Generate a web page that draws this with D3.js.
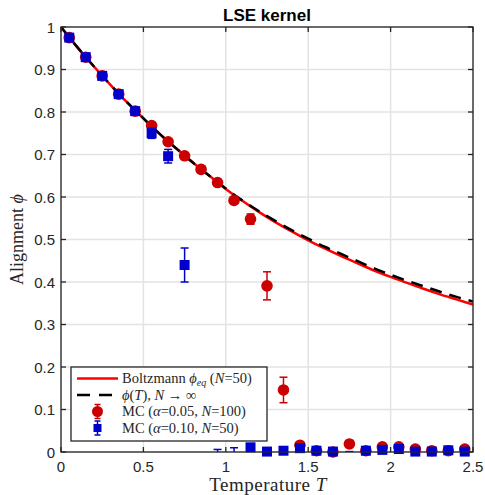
<!DOCTYPE html>
<html>
<head>
<meta charset="utf-8">
<script src="https://cdn.jsdelivr.net/npm/d3@7"></script>
<style>
  html, body { margin: 0; padding: 0; background: #fff; }
  svg { display: block; }
</style>
</head>
<body>
<svg id="chart" width="485" height="495"></svg>
<script>
/* LSE kernel — alignment vs temperature, theory curves + MC points */
(function () {
  'use strict';

  // --- data ---
  const curveT = [0, 0.1, 0.2, 0.3, 0.4, 0.5, 0.6, 0.7, 0.8, 0.9, 1.0, 1.1, 1.2, 1.3,
    1.4, 1.5, 1.6, 1.7, 1.8, 1.9, 2.0, 2.1, 2.2, 2.3, 2.4, 2.5];
  const phiInf = [1.0, 0.952, 0.907, 0.864, 0.823, 0.785, 0.748, 0.714, 0.681, 0.650,
    0.620, 0.592, 0.567, 0.544, 0.522, 0.502, 0.483, 0.466, 0.449, 0.432,
    0.417, 0.403, 0.390, 0.377, 0.365, 0.354];
  const phiEq = [1.0, 0.952, 0.907, 0.864, 0.823, 0.785, 0.748, 0.714, 0.681, 0.650,
    0.619, 0.591, 0.565, 0.541, 0.519, 0.498, 0.479, 0.461, 0.444, 0.427,
    0.412, 0.398, 0.384, 0.371, 0.359, 0.347];

  const mcT = [0.05, 0.15, 0.25, 0.35, 0.45, 0.55, 0.65, 0.75, 0.85, 0.95, 1.05, 1.15,
    1.25, 1.35, 1.45, 1.55, 1.65, 1.75, 1.85, 1.95, 2.05, 2.15, 2.25, 2.35, 2.45];
  const redPhi = [0.975, 0.929, 0.885, 0.842, 0.802, 0.768, 0.730, 0.697, 0.665, 0.634,
    0.592, 0.548, 0.391, 0.146, 0.016, 0.003, 0.0, 0.019, 0.003, 0.012, 0.012,
    0.007, 0.003, 0.003, 0.007];
  const redErr = [0.003, 0.003, 0.003, 0.003, 0.003, 0.004, 0.004, 0.004, 0.004, 0.005,
    0.006, 0.012, 0.033, 0.030, 0.004, 0.003, 0.003, 0.004, 0.003, 0.003, 0.003,
    0.003, 0.003, 0.003, 0.003];
  const bluePhi = [0.975, 0.929, 0.885, 0.842, 0.802, 0.750, 0.696, 0.440, -0.010, -0.004,
    -0.002, 0.011, 0.001, 0.003, 0.009, 0.003, 0.001, -0.004, 0.003, 0.005, 0.007,
    0.001, 0.001, 0.004, 0.001];
  const blueErr = [0.003, 0.003, 0.003, 0.003, 0.003, 0.012, 0.016, 0.040, 0.005, 0.010,
    0.012, 0.003, 0.002, 0.002, 0.003, 0.002, 0.002, 0.005, 0.002, 0.002, 0.003,
    0.002, 0.002, 0.002, 0.002];

  const xTicks = [0, 0.5, 1, 1.5, 2, 2.5];
  const xTickLabels = ['0', '0.5', '1', '1.5', '2', '2.5'];
  const yTicks = [0, 0.1, 0.2, 0.3, 0.4, 0.5, 0.6, 0.7, 0.8, 0.9, 1];
  const yTickLabels = ['0', '0.1', '0.2', '0.3', '0.4', '0.5', '0.6', '0.7', '0.8', '0.9', '1'];

  const RED_LINE = '#ff0000';
  const RED_MC = '#cc0000';
  const BLUE_MC = '#0000cc';
  const AXIS = '#262626';
  const SANS = '"Liberation Sans", Arial, Helvetica, sans-serif';
  const SERIF = '"Liberation Serif", "Times New Roman", serif';

  const box = { left: 61, right: 473, top: 27, bottom: 452 };
  const svg = d3.select('#chart');

  const x = d3.scaleLinear().domain([0, 2.5]).range([box.left, box.right]);
  const y = d3.scaleLinear().domain([0, 1]).range([box.bottom, box.top]);

  svg.append('defs').append('clipPath').attr('id', 'plotClip')
    .append('rect')
    .attr('x', box.left).attr('y', box.top)
    .attr('width', box.right - box.left).attr('height', box.bottom - box.top);

  // grid
  const grid = svg.append('g');
  xTicks.forEach((v) => {
    grid.append('line').attr('x1', x(v)).attr('x2', x(v)).attr('y1', box.top).attr('y2', box.bottom)
      .attr('stroke', '#e3e3e3').attr('stroke-width', 1.5);
  });
  yTicks.forEach((v) => {
    grid.append('line').attr('x1', box.left).attr('x2', box.right).attr('y1', y(v)).attr('y2', y(v))
      .attr('stroke', '#e3e3e3').attr('stroke-width', 1.5);
  });

  // theory curves
  const curveG = svg.append('g').attr('clip-path', 'url(#plotClip)');
  const line = (vals) => d3.line()
    .x((_, i) => x(curveT[i])).y((d) => y(d))
    .curve(d3.curveMonotoneX)(vals);
  curveG.append('path').attr('d', line(phiEq))
    .attr('fill', 'none').attr('stroke', RED_LINE).attr('stroke-width', 2.5);
  curveG.append('path').attr('d', line(phiInf))
    .attr('fill', 'none').attr('stroke', '#000').attr('stroke-width', 2.5)
    .attr('stroke-dasharray', '12 8');

  // error bars (clipped to axes) + markers (hidden if centre outside)
  function drawSeries(vals, errs, color, shape) {
    const eg = svg.append('g').attr('clip-path', 'url(#plotClip)');
    const mg = svg.append('g');
    vals.forEach((v, i) => {
      const cx = x(mcT[i]);
      const lo = y(v - errs[i]), hi = y(v + errs[i]);
      eg.append('line').attr('x1', cx).attr('x2', cx).attr('y1', lo).attr('y2', hi)
        .attr('stroke', color).attr('stroke-width', 1.5);
      [lo, hi].forEach((yy) => {
        eg.append('line').attr('x1', cx - 4).attr('x2', cx + 4).attr('y1', yy).attr('y2', yy)
          .attr('stroke', color).attr('stroke-width', 1.5);
      });
      if (v < 0) return;
      if (shape === 'circle') {
        mg.append('circle').attr('cx', cx).attr('cy', y(v)).attr('r', 5.8).attr('fill', color);
      } else {
        mg.append('rect').attr('x', cx - 5).attr('y', y(v) - 5).attr('width', 10).attr('height', 10)
          .attr('fill', color);
      }
    });
  }
  drawSeries(redPhi, redErr, RED_MC, 'circle');
  drawSeries(bluePhi, blueErr, BLUE_MC, 'square');

  // axes box + ticks
  const ax = svg.append('g');
  ax.append('rect').attr('x', box.left).attr('y', box.top)
    .attr('width', box.right - box.left).attr('height', box.bottom - box.top)
    .attr('fill', 'none').attr('stroke', AXIS).attr('stroke-width', 1.3);
  xTicks.forEach((v, i) => {
    ax.append('line').attr('x1', x(v)).attr('x2', x(v)).attr('y1', box.bottom).attr('y2', box.bottom - 5)
      .attr('stroke', AXIS).attr('stroke-width', 1.3);
    ax.append('line').attr('x1', x(v)).attr('x2', x(v)).attr('y1', box.top).attr('y2', box.top + 5)
      .attr('stroke', AXIS).attr('stroke-width', 1.3);
    ax.append('text').attr('x', x(v)).attr('y', box.bottom + 20)
      .attr('text-anchor', 'middle').style('font-family', SANS).style('font-size', '15px')
      .style('fill', AXIS).text(xTickLabels[i]);
  });
  yTicks.forEach((v, i) => {
    ax.append('line').attr('x1', box.left).attr('x2', box.left + 5).attr('y1', y(v)).attr('y2', y(v))
      .attr('stroke', AXIS).attr('stroke-width', 1.3);
    ax.append('line').attr('x1', box.right).attr('x2', box.right - 5).attr('y1', y(v)).attr('y2', y(v))
      .attr('stroke', AXIS).attr('stroke-width', 1.3);
    ax.append('text').attr('x', box.left - 6).attr('y', y(v) + 5.5)
      .attr('text-anchor', 'end').style('font-family', SANS).style('font-size', '15px')
      .style('fill', AXIS).text(yTickLabels[i]);
  });

  // title + axis labels
  svg.append('text').attr('x', (box.left + box.right) / 2).attr('y', 21)
    .attr('text-anchor', 'middle').style('font-family', SANS).style('font-size', '17px')
    .style('font-weight', 'bold').style('fill', '#000').text('LSE kernel');

  const xl = svg.append('text').attr('x', (box.left + box.right) / 2 + 1).attr('y', 491)
    .attr('text-anchor', 'middle').style('font-family', SERIF).style('font-size', '19px')
    .style('letter-spacing', '0.5px').style('fill', AXIS);
  xl.append('tspan').text('Temperature ');
  xl.append('tspan').style('font-style', 'italic').text('T');

  const yl = svg.append('text')
    .attr('transform', `translate(23,${(box.top + box.bottom) / 2}) rotate(-90)`)
    .attr('text-anchor', 'middle').style('font-family', SERIF).style('font-size', '18px')
    .style('fill', AXIS);
  yl.append('tspan').text('Alignment ');
  yl.append('tspan').style('font-style', 'italic').text('\u03d5');

  // legend
  const lg = svg.append('g');
  lg.append('rect').attr('x', 71).attr('y', 367).attr('width', 196).attr('height', 74)
    .attr('fill', '#fff').attr('stroke', AXIS).attr('stroke-width', 1.3);
  const rows = [378.5, 395, 411.5, 428];
  const sx0 = 77, sx1 = 118, tx = 122, mx = 97.5;
  lg.append('line').attr('x1', sx0).attr('x2', sx1).attr('y1', rows[0]).attr('y2', rows[0])
    .attr('stroke', RED_LINE).attr('stroke-width', 2.5);
  lg.append('line').attr('x1', sx0).attr('x2', sx1).attr('y1', rows[1]).attr('y2', rows[1])
    .attr('stroke', '#000').attr('stroke-width', 2.5).attr('stroke-dasharray', '13 9');
  [[rows[2], RED_MC, 'circle'], [rows[3], BLUE_MC, 'square']].forEach(([ry, c, s]) => {
    lg.append('line').attr('x1', mx).attr('x2', mx).attr('y1', ry - 7).attr('y2', ry + 7)
      .attr('stroke', c).attr('stroke-width', 1.5);
    [ry - 7, ry + 7].forEach((yy) => lg.append('line').attr('x1', mx - 3).attr('x2', mx + 3)
      .attr('y1', yy).attr('y2', yy).attr('stroke', c).attr('stroke-width', 1.5));
    if (s === 'circle') lg.append('circle').attr('cx', mx).attr('cy', ry).attr('r', 5.5).attr('fill', c);
    else lg.append('rect').attr('x', mx - 4).attr('y', ry - 4).attr('width', 8).attr('height', 8).attr('fill', c);
  });

  // legend labels: [text, 0 plain | 1 italic | 2 italic subscript]
  const labels = [
    [['Boltzmann ', 0], ['\u03d5', 1], ['eq', 2], [' (', 0], ['N', 1], ['=50)', 0]],
    [['\u03d5', 1], ['(', 0], ['T', 1], ['), ', 0], ['N', 1], [' \u2192 \u221e', 0]],
    [['MC (', 0], ['\u03b1', 1], ['=0.05, ', 0], ['N', 1], ['=100)', 0]],
    [['MC (', 0], ['\u03b1', 1], ['=0.10, ', 0], ['N', 1], ['=50)', 0]],
  ];
  labels.forEach((parts, r) => {
    const t = lg.append('text').attr('x', tx).attr('y', rows[r] + 4.5)
      .style('font-family', SERIF).style('font-size', '14.5px').style('fill', AXIS);
    parts.forEach(([s, k]) => {
      const sp = t.append('tspan').text(s);
      if (k >= 1) sp.style('font-style', 'italic');
      if (k === 2) sp.attr('dy', 3).style('font-size', '10px');
      else if (r === 0 && s === ' (') sp.attr('dy', -3);
    });
  });
})();
</script>
</body>
</html>
